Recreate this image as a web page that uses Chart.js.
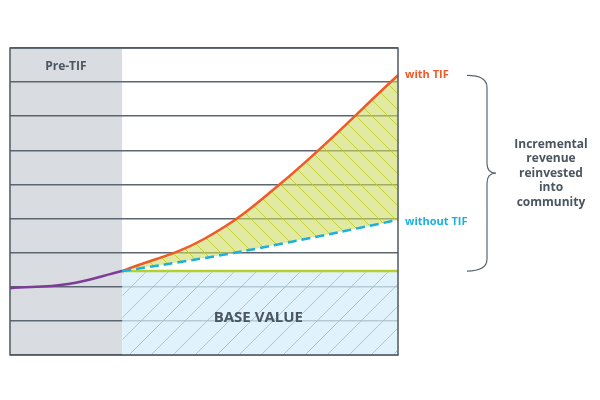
<!DOCTYPE html>
<html>
<head>
<meta charset="utf-8">
<script src="https://cdn.jsdelivr.net/npm/chart.js@4/dist/chart.umd.min.js"></script>
<style>
  html, body { margin: 0; padding: 0; background: #fff; }
  #wrap { width: 600px; height: 400px; }
</style>
</head>
<body>
<div id="wrap"><canvas id="tifChart"></canvas></div>
<script>
// x = time (0..100), y = property value (grid units)
const preTifX = [0, 15, 28.9];
const preTifValues = [1.96, 2.08, 2.46];
const tifX = [28.9, 50, 70, 100];
const withTifValues = [2.46, 3.4, 5.05, 8.2];
const withoutTifValues = [2.46, 2.84, 3.26, 3.96];
const baseValueX = [28.9, 100];
const baseValueY = [2.46, 2.46];
const yTicks = { min: 0, max: 9, step: 1 };

const textColor = "#4a5560";

function hatch(bg, line, size, dir) {
  const c = document.createElement("canvas");
  c.width = size;
  c.height = size;
  const g = c.getContext("2d");
  g.fillStyle = bg;
  g.fillRect(0, 0, size, size);
  g.strokeStyle = line;
  g.lineWidth = 1;
  g.beginPath();
  if (dir === "/") {
    g.moveTo(0, size); g.lineTo(size, 0);
    g.moveTo(-size / 2, size / 2); g.lineTo(size / 2, -size / 2);
    g.moveTo(size / 2, size * 1.5); g.lineTo(size * 1.5, size / 2);
  } else {
    g.moveTo(0, 0); g.lineTo(size, size);
    g.moveTo(-size / 2, size / 2); g.lineTo(size / 2, size * 1.5);
    g.moveTo(size / 2, -size / 2); g.lineTo(size * 1.5, size / 2);
  }
  g.stroke();
  return g.createPattern(c, "repeat");
}

const ctx0 = document.getElementById("tifChart").getContext("2d");
const bluePattern = hatch("rgba(214,238,250,0.75)", "rgba(120,200,235,0.8)", 22, "/");
const yellowPattern = hatch("rgba(205,218,100,0.6)", "rgba(190,205,40,0.9)", 16, "\\");

const toPts = (xs, ys) => xs.map((x, i) => ({ x, y: ys[i] }));

const decorPlugin = {
  id: "decor",
  beforeDraw(chart) {
    const { ctx, chartArea: a, scales: { x } } = chart;
    ctx.save();
    ctx.fillStyle = "#d9dce1";
    ctx.fillRect(a.left, a.top, x.getPixelForValue(preTifX[preTifX.length - 1]) - a.left, a.bottom - a.top);
    ctx.restore();
  },
  afterDraw(chart) {
    const { ctx, chartArea: a, scales: { x, y } } = chart;
    ctx.save();
    ctx.strokeStyle = "#4f5962";
    ctx.lineWidth = 1.5;
    ctx.strokeRect(a.left, a.top, a.right - a.left, a.bottom - a.top);

    ctx.fillStyle = textColor;
    ctx.font = "bold 12px 'Open Sans'";
    ctx.textAlign = "center";
    ctx.textBaseline = "middle";
    ctx.fillText("Pre-TIF", x.getPixelForValue(14.4), 67);
    ctx.font = "bold 15px 'Open Sans'";
    ctx.fillText("BASE VALUE", x.getPixelForValue(64), 318);

    const endX = a.right + 7;
    ctx.textAlign = "left";
    ctx.font = "bold 11px 'Open Sans'";
    ctx.fillStyle = "#f05a28";
    ctx.fillText("with TIF", endX, y.getPixelForValue(withTifValues[withTifValues.length - 1]));
    ctx.fillStyle = "#1ab0e0";
    ctx.fillText("without TIF", endX, y.getPixelForValue(withoutTifValues[withoutTifValues.length - 1]) + 2);

    // brace
    const top = y.getPixelForValue(withTifValues[withTifValues.length - 1]);
    const bot = y.getPixelForValue(baseValueY[0]);
    const mid = (top + bot) / 2;
    const bx = 487;
    ctx.strokeStyle = "#5c6670";
    ctx.lineWidth = 1.2;
    ctx.beginPath();
    ctx.moveTo(467, top);
    ctx.quadraticCurveTo(bx, top, bx, top + 12);
    ctx.lineTo(bx, mid - 10);
    ctx.quadraticCurveTo(bx, mid, bx + 9, mid);
    ctx.quadraticCurveTo(bx, mid, bx, mid + 10);
    ctx.lineTo(bx, bot - 12);
    ctx.quadraticCurveTo(bx, bot, 467, bot);
    ctx.stroke();

    ctx.fillStyle = textColor;
    ctx.textAlign = "center";
    ctx.font = "bold 12px 'Open Sans'";
    ["Incremental", "revenue", "reinvested", "into", "community"].forEach((t, i) => {
      ctx.fillText(t, 551, mid - 29 + i * 14.5);
    });
    ctx.restore();
  },
};

new Chart(ctx0, {
  type: "line",
  data: {
    datasets: [
      {
        label: "without TIF",
        data: toPts(tifX, withoutTifValues),
        borderColor: "#1ab0e0",
        borderWidth: 2.5,
        borderDash: [9, 5],
        pointRadius: 0,
        tension: 0.4,
        fill: false,
        order: 0,
      },
      {
        label: "with TIF",
        data: toPts(tifX, withTifValues),
        borderColor: "#f05a28",
        borderWidth: 2.5,
        pointRadius: 0,
        tension: 0.4,
        fill: { target: 0 },
        backgroundColor: yellowPattern,
        order: 1,
      },
      {
        label: "base value",
        data: toPts(baseValueX, baseValueY),
        borderColor: "#b5cf2d",
        borderWidth: 2.5,
        pointRadius: 0,
        fill: "origin",
        backgroundColor: bluePattern,
        order: 2,
      },
      {
        label: "pre-TIF",
        data: toPts(preTifX, preTifValues),
        borderColor: "#7d3c98",
        borderWidth: 2.5,
        pointRadius: 0,
        tension: 0.4,
        fill: false,
        order: 0,
      },
    ],
  },
  options: {
    responsive: true,
    maintainAspectRatio: false,
    animation: false,
    layout: { padding: { left: 10, top: 48, right: 202, bottom: 45 } },
    plugins: { legend: { display: false }, tooltip: { enabled: false } },
    scales: {
      x: {
        type: "linear",
        min: 0,
        max: 100,
        display: false,
      },
      y: {
        min: yTicks.min,
        max: yTicks.max,
        ticks: { stepSize: yTicks.step, display: false },
        border: { display: false },
        grid: { color: "#5c6670", lineWidth: 1.5, drawTicks: false },
      },
    },
  },
  plugins: [decorPlugin],
});
</script>
</body>
</html>
